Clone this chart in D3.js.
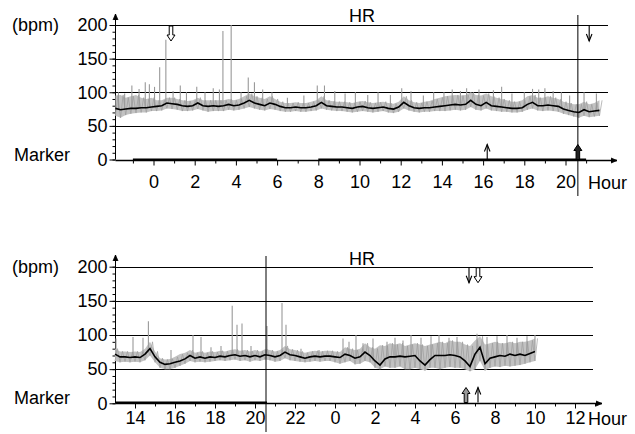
<!DOCTYPE html>
<html lang="en">
<head>
  <meta charset="UTF-8">
  <title>HR</title>
  <script src="https://d3js.org/d3.v7.min.js"></script>
  <style>
    body { margin: 0; background: #fff; }
    text { font-family: "Liberation Sans", Arial, sans-serif; font-size: 18px; fill: #000; }
  </style>
</head>
<body>
<div id="chart"></div>
<script>
  // ---- data ----
  // top record: bins of 0.25 h starting at -1.85 h
  const topStart = -1.85, topStep = 0.25;
  const topMean = [76,74,75,76,76,77,77,78,79,80,84,83,82,80,79,80,84,80,79,80,
    79,80,82,80,81,84,88,84,82,80,84,82,79,77,77,78,77,77,78,80,
    85,80,79,78,78,77,76,78,79,77,76,77,78,76,75,78,85,80,77,76,
    77,77,78,79,80,81,82,81,82,88,82,80,85,80,79,78,77,76,76,77,
    82,85,80,80,81,80,79,75,73,71,70,74,71,72,73];
  const topLo = [65,62,66,68,69,70,70,72,72,73,76,75,74,72,72,73,75,73,71,72,
    72,72,74,73,74,76,78,76,74,73,75,74,72,71,71,72,71,71,72,73,
    76,74,73,72,72,71,70,71,72,71,70,71,72,70,69,71,76,73,71,70,
    71,71,72,72,72,73,74,73,74,78,74,73,76,73,72,71,71,70,70,71,
    74,76,73,72,73,72,71,68,66,64,62,65,63,64,65];
  const topHi = [95,96,92,94,96,92,90,92,88,88,92,92,90,88,87,88,92,88,88,88,
    88,88,90,88,90,94,98,94,92,90,94,90,86,84,84,85,84,84,86,88,
    94,88,87,86,86,85,84,86,87,85,84,85,86,84,83,86,94,88,85,84,
    86,87,90,92,94,95,96,95,96,100,96,95,98,94,92,90,88,86,86,88,
    94,96,92,92,94,92,90,86,84,82,82,86,82,84,88];
  const topSpikes = [[-1.7,100],[-1.4,98],[-1.05,110],[-0.7,105],[-0.4,115],[-0.2,112],[0.05,108],
    [0.3,137],[0.6,178],[0.95,102],[1.3,110],[1.6,100],[2.1,108],[2.5,100],[2.9,106],[3.2,104],
    [3.37,191],[3.77,200],[4.25,100],[4.6,122],[4.9,115],[5.3,104],[5.75,100],[6.5,92],[7.3,95],
    [7.95,110],[8.3,110],[8.8,102],[9.3,98],[9.8,100],[10.4,96],[10.9,100],[11.5,96],[12.05,106],
    [12.5,102],[13.1,95],[13.6,100],[14.1,100],[14.5,104],[14.9,102],[15.2,106],[15.8,104],
    [16.5,103],[16.9,108],[17.4,98],[18.0,100],[18.4,105],[18.7,104],[19.0,106],[19.4,102],
    [19.8,100],[20.2,95],[20.9,100],[21.5,98]];
  const topBars = [[-1,6],[8,21]];
  const topCut = 20.6;
  const topMarks = [
    { h: 0.85, kind: "down", hollow: true },
    { h: 21.15, kind: "down", hollow: false },
    { h: 16.2, kind: "up", hollow: false },
    { h: 20.6, kind: "up", hollow: true, fill: "#222" }
  ];

  // bottom record: bins of 0.25 h starting at 13 h (hours past 24 = next day)
  const botStart = 13, botStep = 0.25;
  const botMean = [72,68,68,67,68,67,72,80,68,60,57,58,60,62,65,70,66,68,66,68,
    67,69,68,70,71,69,70,68,70,68,71,70,68,70,75,71,70,68,66,68,
    69,68,69,69,68,67,72,70,66,68,75,70,62,56,65,68,68,69,68,69,
    70,62,56,64,70,70,70,71,70,68,62,54,72,82,58,66,68,70,69,72,
    70,72,70,73,76];
  const botLo = [62,60,61,60,61,60,63,70,60,52,50,50,52,55,58,62,60,61,60,61,
    62,63,62,63,64,62,63,61,63,62,64,63,61,62,66,63,62,61,60,61,
    62,61,62,62,60,58,60,62,57,58,62,60,52,50,54,52,52,54,50,50,
    52,50,48,52,52,50,52,53,52,52,50,47,50,62,48,52,54,53,55,54,
    55,56,58,60,62];
  const botHi = [80,76,76,75,76,75,80,90,76,66,64,65,68,72,74,78,74,76,74,76,
    75,77,76,78,79,77,78,76,78,76,79,78,76,78,84,79,78,76,74,76,
    77,76,77,77,76,75,82,80,78,80,88,82,80,85,84,88,86,88,84,86,
    88,86,84,86,88,90,88,92,90,90,86,84,92,98,86,88,90,88,88,90,
    88,90,90,92,95];
  const botSpikes = [[13.05,95],[13.9,97],[14.4,96],[14.67,120],[15.8,78],[16.9,100],[17.3,97],
    [17.8,82],[18.3,84],[18.86,143],[19.1,115],[19.35,117],[19.8,84],[20.6,113],[21.35,147],
    [21.55,115],[22.3,80],[23.2,78],[24.4,95],[24.7,90],[25.05,100],[25.4,88],[25.9,95],
    [26.6,90],[27.0,96],[27.4,92],[27.8,100],[28.3,96],[28.8,98],[29.2,100],[29.7,96],
    [30.1,97],[31.1,102],[31.6,97],[32.1,98],[32.6,100],[33.1,96],[33.6,98],[34.0,100]];
  const botBars = [[13,20.6]];
  const botCut = 20.55;
  const botMarks = [
    { h: 30.7, kind: "down", hollow: false },
    { h: 31.15, kind: "down", hollow: true },
    { h: 30.55, kind: "up", hollow: true, fill: "#999" },
    { h: 31.15, kind: "up", hollow: false }
  ];

  const bpmTicks = [0, 50, 100, 150, 200];
  const minorBpm = d3.range(0, 201, 10);

  // ---- drawing ----
  const width = 635, height = 434;
  const svg = d3.select("#chart").append("svg")
    .attr("width", width).attr("height", height);

  function panel(cfg) {
    const g = svg.append("g");
    const x = d3.scaleLinear().domain(cfg.xDomain).range(cfg.xRange);
    const y = d3.scaleLinear().domain([0, 200]).range([cfg.y0, cfg.y200]);
    const x0 = 115.5;

    // grid lines
    g.selectAll(".grid").data(bpmTicks.slice(1)).join("line")
      .attr("x1", x0).attr("x2", cfg.gridEnd)
      .attr("y1", d => Math.round(y(d)) + 0.5).attr("y2", d => Math.round(y(d)) + 0.5)
      .attr("stroke", "#000").attr("stroke-width", 1);

    // y axis: minor and major ticks
    g.append("g").attr("transform", `translate(${x0},0)`)
      .call(d3.axisLeft(y).tickValues(minorBpm).tickSize(3).tickFormat(""))
      .call(a => a.select(".domain").remove());
    g.append("g").attr("transform", `translate(${x0},0)`)
      .call(d3.axisLeft(y).tickValues(bpmTicks).tickSize(6).tickPadding(2))
      .call(a => a.select(".domain").remove())
      .call(a => a.selectAll("text").style("font-size", "18px").attr("font-family", null));
    g.append("line").attr("x1", x0).attr("x2", x0)
      .attr("y1", y(0)).attr("y2", cfg.yTop).attr("stroke", "#000");
    g.append("path")
      .attr("d", `M${x0 - 2.5},${cfg.yTop + 6}L${x0},${cfg.yTop}L${x0 + 2.5},${cfg.yTop + 6}`)
      .attr("fill", "#000").attr("stroke", "#000").attr("stroke-width", 0.8);

    // x axis
    const yb = Math.round(y(0)) + 0.5;
    const major = d3.range(cfg.majorFrom, cfg.majorTo + 1, 2);
    const minor = d3.range(cfg.majorFrom - 1, cfg.majorTo + 2, 2).filter(h => x(h) > x0 + 2 && x(h) < cfg.axisEnd - 4);
    g.append("g").attr("transform", `translate(0,${yb})`)
      .call(d3.axisBottom(x).tickValues(minor).tickSize(3).tickFormat(""))
      .call(a => a.select(".domain").remove());
    g.append("g").attr("transform", `translate(0,${yb})`)
      .call(d3.axisBottom(x).tickValues(major).tickSize(5).tickPadding(cfg.labelPad).tickFormat(h => h % 24))
      .call(a => a.select(".domain").remove())
      .call(a => a.selectAll("text").style("font-size", "18px").attr("font-family", null));
    g.append("line").attr("x1", x0).attr("x2", cfg.axisEnd)
      .attr("y1", yb).attr("y2", yb).attr("stroke", "#000").attr("stroke-width", 1.3);
    g.append("path")
      .attr("d", `M${cfg.axisEnd - 6},${yb - 2.5}L${cfg.axisEnd},${yb}L${cfg.axisEnd - 6},${yb + 2.5}`)
      .attr("fill", "#000").attr("stroke", "#000").attr("stroke-width", 0.8);

    // marker bars on the axis
    g.selectAll(".bar").data(cfg.bars).join("line")
      .attr("x1", d => x(d[0])).attr("x2", d => x(d[1]))
      .attr("y1", yb - 1).attr("y2", yb - 1)
      .attr("stroke", "#000").attr("stroke-width", 2.2);

    // raw HR (gray): band between bin lows and highs, a ragged trace inside it, and single spikes
    const hourAt = i => cfg.start + i * cfg.step;
    g.append("path").datum(cfg.lo)
      .attr("fill", "#c2c2c2").attr("stroke", "none")
      .attr("d", d3.area()
        .x((d, i) => x(hourAt(i)))
        .y0(d => y(d))
        .y1((d, i) => y(cfg.hi[i])));
    const trace = [];
    cfg.lo.forEach((v, i) => {
      trace.push([hourAt(i), v]);
      trace.push([hourAt(i) + cfg.step / 2, cfg.hi[i]]);
    });
    g.append("path").datum(trace)
      .attr("fill", "none").attr("stroke", "#9c9c9c").attr("stroke-width", 0.7)
      .attr("d", d3.line().x(d => x(d[0])).y(d => y(d[1])));
    g.selectAll(".spike").data(cfg.spikes).join("line")
      .attr("x1", d => x(d[0])).attr("x2", d => x(d[0]))
      .attr("y1", d => {
        const i = Math.max(0, Math.min(cfg.mean.length - 1, Math.round((d[0] - cfg.start) / cfg.step)));
        return y(cfg.mean[i]);
      })
      .attr("y2", d => y(d[1]))
      .attr("stroke", "#999").attr("stroke-width", 1.1);

    // smoothed HR (black)
    g.append("path").datum(cfg.mean)
      .attr("fill", "none").attr("stroke", "#000").attr("stroke-width", 1.6)
      .attr("d", d3.line().x((d, i) => x(hourAt(i))).y(d => y(d)));

    // vertical cut line
    g.append("line")
      .attr("x1", x(cfg.cut)).attr("x2", x(cfg.cut))
      .attr("y1", cfg.yTop + 1).attr("y2", cfg.cutBottom)
      .attr("stroke", "#000").attr("stroke-width", 1);

    // event arrows
    cfg.marks.forEach(m => {
      const cx = x(m.h);
      const down = m.kind === "down";
      const tip = down ? y(200) + 16 : yb - 16;
      const tail = down ? y(200) + 1 : yb - 1;
      const dir = down ? -1 : 1;  // from tip back toward tail
      if (m.hollow) {
        const hw = 4, sw = 1.8, hl = 6;
        const p = `M${cx},${tip}L${cx - hw},${tip + dir * hl}L${cx - sw},${tip + dir * hl}L${cx - sw},${tail}` +
          `L${cx + sw},${tail}L${cx + sw},${tip + dir * hl}L${cx + hw},${tip + dir * hl}Z`;
        g.append("path").attr("d", p)
          .attr("fill", m.fill || "#fff").attr("stroke", "#000").attr("stroke-width", 1);
      } else {
        g.append("line").attr("x1", cx).attr("x2", cx).attr("y1", tail).attr("y2", tip)
          .attr("stroke", "#000").attr("stroke-width", 1.1);
        g.append("path")
          .attr("d", `M${cx - 2.8},${tip + dir * 7}L${cx},${tip}L${cx + 2.8},${tip + dir * 7}`)
          .attr("fill", "none").attr("stroke", "#000").attr("stroke-width", 1.1);
      }
    });

    // labels
    g.append("text").attr("x", 362).attr("y", cfg.titleY).attr("text-anchor", "middle").text("HR");
    g.append("text").attr("x", 12).attr("y", y(200) + 6).text("(bpm)");
    g.append("text").attr("x", 14).attr("y", y(0) + 1).text("Marker");
    g.append("text").attr("x", 588).attr("y", yb + 5 + cfg.labelPad + 13).text("Hour");
  }

  panel({
    xDomain: [0, 20], xRange: [153.5, 565.5],
    y0: 159.5, y200: 25, yTop: 14,
    gridEnd: 608, axisEnd: 617, majorFrom: 0, majorTo: 20, labelPad: 10,
    start: topStart, step: topStep, mean: topMean, lo: topLo, hi: topHi,
    spikes: topSpikes, bars: topBars, cut: topCut, cutBottom: 196, marks: topMarks,
    titleY: 22
  });

  panel({
    xDomain: [14, 36], xRange: [135, 575],
    y0: 403.3, y200: 266.7, yTop: 255,
    gridEnd: 593, axisEnd: 602, majorFrom: 14, majorTo: 36, labelPad: 3,
    start: botStart, step: botStep, mean: botMean, lo: botLo, hi: botHi,
    spikes: botSpikes, bars: botBars, cut: botCut, cutBottom: 432, marks: botMarks,
    titleY: 265
  });
</script>
</body>
</html>
